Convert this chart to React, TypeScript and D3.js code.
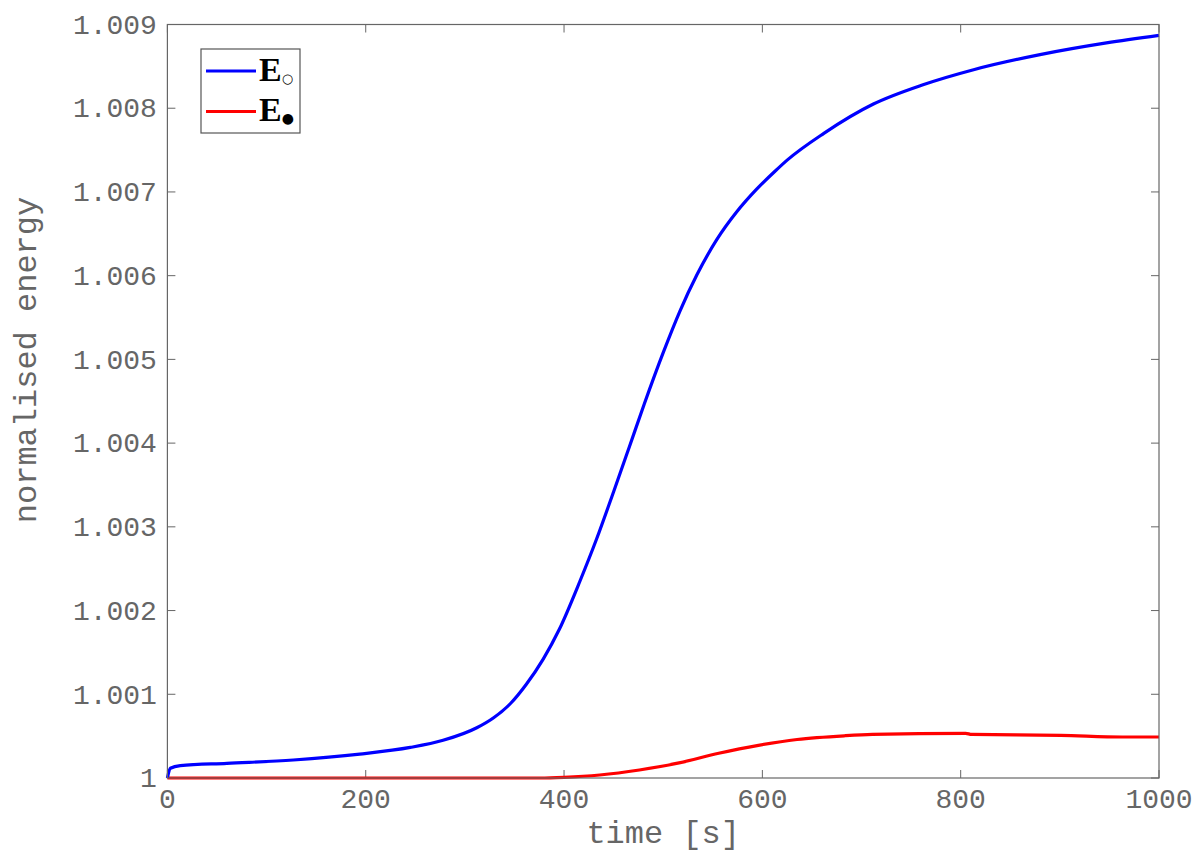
// Normalised energy vs time, two series (E open / E filled)
import React, { useEffect, useRef } from 'react'
import * as d3 from 'd3'

// time samples [s]
const blueTime = [
  0, 3, 13, 60, 127, 194, 245, 278, 312, 329, 346, 362, 379, 395, 416, 433,
  450, 466, 481, 500, 517, 534, 554, 574, 594, 613, 625, 662, 712, 762, 813,
  880, 947, 1000,
]
const blueEnergy = [
  1.0, 1.000116, 1.000147, 1.000175, 1.000215, 1.000285, 1.000365, 1.00045,
  1.0006, 1.00072, 1.00089, 1.00112, 1.00142, 1.00177, 1.00235, 1.00286,
  1.00342, 1.00396, 1.00447, 1.00508, 1.00558, 1.00601, 1.00643, 1.00676,
  1.00703, 1.00725, 1.00738, 1.0077, 1.00805, 1.00828, 1.00846, 1.00864,
  1.00878, 1.00887,
]

// time samples [s]
const redTime = [
  0, 376, 400, 436, 476, 516, 556, 596, 635, 684, 711, 805, 811, 901, 963, 1000,
]
const redEnergy = [
  1.0, 1.0, 1.000008, 1.000036, 1.000096, 1.00018, 1.000295, 1.00039, 1.00046,
  1.000505, 1.00052, 1.000534, 1.00052, 1.00051, 1.00049, 1.00049,
]

const xTicks = [0, 200, 400, 600, 800, 1000]
const yTicks = [1, 1.001, 1.002, 1.003, 1.004, 1.005, 1.006, 1.007, 1.008, 1.009]

const legendLabels = ['E', 'E']
const legendSubs = ['\u25CB', '\u25CF']
const seriesColors = ['#0000ff', '#ff0000']

export default function App() {
  const ref = useRef(null)

  useEffect(() => {
    const W = 1200,
      H = 856
    const margin = { top: 24.5, right: 41, bottom: 78, left: 167.4 }
    const width = W - margin.left - margin.right
    const height = H - margin.top - margin.bottom
    const axisColor = '#666'
    const textColor = '#666'
    const mono =
      '"Courier New", "Nimbus Mono PS", "FreeMono", Courier, "Liberation Mono", monospace'

    const root = d3.select(ref.current)
    root.selectAll('*').remove()

    const svg = root
      .append('svg')
      .attr('width', W)
      .attr('height', H)
      .style('display', 'block')
      .style('background', '#fff')

    const g = svg
      .append('g')
      .attr('transform', 'translate(' + margin.left + ',' + margin.top + ')')

    const x = d3.scaleLinear().domain([0, 1000]).range([0, width])
    const y = d3.scaleLinear().domain([1, 1.009]).range([height, 0])

    const tickLen = 8
    const fmtY = (d) => (d === 1 ? '1' : d3.format('.3f')(d))

    // Tick marks on all four sides, pointing inward
    const ticks = g.append('g').attr('stroke', axisColor).attr('stroke-width', 1)
    xTicks.forEach((t) => {
      ticks
        .append('line')
        .attr('x1', x(t))
        .attr('x2', x(t))
        .attr('y1', height)
        .attr('y2', height - tickLen)
      ticks
        .append('line')
        .attr('x1', x(t))
        .attr('x2', x(t))
        .attr('y1', 0)
        .attr('y2', tickLen)
    })
    yTicks.forEach((t) => {
      ticks
        .append('line')
        .attr('x1', 0)
        .attr('x2', tickLen)
        .attr('y1', y(t))
        .attr('y2', y(t))
      ticks
        .append('line')
        .attr('x1', width)
        .attr('x2', width - tickLen)
        .attr('y1', y(t))
        .attr('y2', y(t))
    })

    // Tick labels
    g.append('g')
      .selectAll('text')
      .data(xTicks)
      .join('text')
      .attr('x', (d) => x(d))
      .attr('y', height + 30)
      .attr('text-anchor', 'middle')
      .style('font-family', mono)
      .style('font-size', '28px')
      .style('fill', textColor)
      .text((d) => String(d))

    g.append('g')
      .selectAll('text')
      .data(yTicks)
      .join('text')
      .attr('x', -10.5)
      .attr('y', (d) => y(d))
      .attr('dy', '0.33em')
      .attr('text-anchor', 'end')
      .style('font-family', mono)
      .style('font-size', '28px')
      .style('fill', textColor)
      .text(fmtY)

    // Axis labels
    svg
      .append('text')
      .attr('x', margin.left + width / 2)
      .attr('y', 843)
      .attr('text-anchor', 'middle')
      .style('font-family', mono)
      .style('font-size', '32px')
      .style('fill', textColor)
      .text('time [s]')

    svg
      .append('text')
      .attr('transform', 'translate(36,360) rotate(-90)')
      .attr('text-anchor', 'middle')
      .style('font-family', mono)
      .style('font-size', '32px')
      .style('fill', textColor)
      .text('normalised energy')

    // Lines
    const line = (ts, vs) =>
      d3
        .line()
        .x((d, i) => x(ts[i]))
        .y((d) => y(d))
        .curve(d3.curveMonotoneX)(vs)

    g.append('path')
      .attr('d', line(redTime, redEnergy))
      .attr('fill', 'none')
      .attr('stroke', seriesColors[1])
      .attr('stroke-width', 3.2)

    g.append('path')
      .attr('d', line(blueTime, blueEnergy))
      .attr('fill', 'none')
      .attr('stroke', seriesColors[0])
      .attr('stroke-width', 3.2)

    // Plot box
    g.append('rect')
      .attr('width', width)
      .attr('height', height)
      .attr('fill', 'none')
      .attr('stroke', axisColor)
      .attr('stroke-width', 1.2)

    // Legend
    const legend = svg.append('g')
    legend
      .append('rect')
      .attr('x', 201)
      .attr('y', 49)
      .attr('width', 99)
      .attr('height', 84)
      .attr('fill', '#fff')
      .attr('stroke', '#555')
      .attr('stroke-width', 1.2)

    legendLabels.forEach((lab, i) => {
      const ly = 71 + i * 40.5
      legend
        .append('line')
        .attr('x1', 206)
        .attr('x2', 256)
        .attr('y1', ly)
        .attr('y2', ly)
        .attr('stroke', seriesColors[i])
        .attr('stroke-width', 3)
      const t = legend
        .append('text')
        .attr('x', 259)
        .attr('y', ly + 9.5)
        .style('font-family', '"Liberation Serif", "Times New Roman", serif')
        .style('font-weight', 'bold')
        .style('font-size', '34px')
        .style('fill', '#000')
        .text(lab)
      t.append('tspan')
        .attr('dy', 2)
        .style('font-family', '"DejaVu Sans", sans-serif')
        .style('font-size', i === 0 ? '13px' : '14px')
        .style('font-weight', 'bold')
        .text(legendSubs[i])
    })
  }, [])

  return (
    <div
      ref={ref}
      style={{ position: 'absolute', left: 0, top: 0, width: 1200, height: 856 }}
    ></div>
  )
}
